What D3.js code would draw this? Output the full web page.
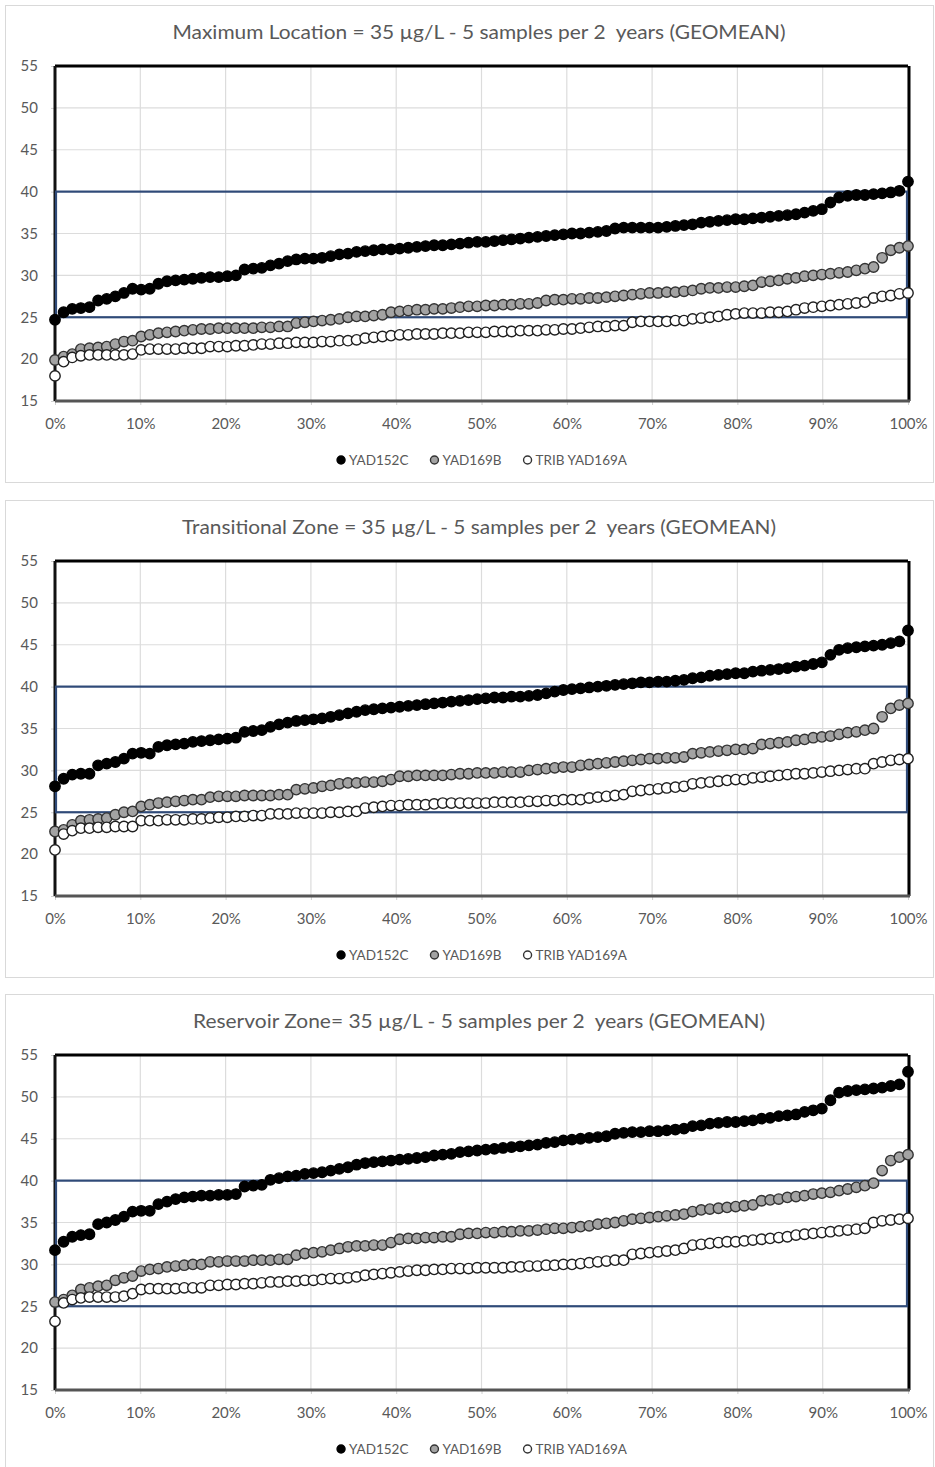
<!DOCTYPE html>
<html><head><meta charset="utf-8">
<script src="https://cdn.jsdelivr.net/npm/d3@7"></script>
<style>
body{margin:0;background:#fff}
svg text{font-family:Lato,"Open Sans","Liberation Sans",sans-serif;white-space:pre}
</style>
</head><body>
<svg id="chart" width="935" height="1467"></svg>
<script>
// ---------- DATA ----------
const titles = [
  "Maximum Location = 35 \u00b5g/L - 5 samples per 2  years (GEOMEAN)",
  "Transitional Zone = 35 \u00b5g/L - 5 samples per 2  years (GEOMEAN)",
  "Reservoir Zone= 35 \u00b5g/L - 5 samples per 2  years (GEOMEAN)"
];
const seriesNames = ["YAD152C", "YAD169B", "TRIB YAD169A"];
const yTicks = [15, 20, 25, 30, 35, 40, 45, 50, 55];
const xTicks = [0, 0.1, 0.2, 0.3, 0.4, 0.5, 0.6, 0.7, 0.8, 0.9, 1.0];
const xTickLabels = ["0%","10%","20%","30%","40%","50%","60%","70%","80%","90%","100%"];
const targetBand = [25, 40];

// Panel 1: Maximum Location
const max_YAD152C = [24.7,25.6,26.0,26.1,26.2,27.0,27.2,27.5,27.9,28.4,
 28.3,28.4,29.0,29.3,29.4,29.5,29.6,29.7,29.8,29.8,
 29.9,30.0,30.7,30.8,30.9,31.2,31.4,31.7,31.9,32.0,
 32.0,32.1,32.3,32.5,32.6,32.8,32.9,33.0,33.1,33.1,
 33.2,33.3,33.4,33.5,33.6,33.6,33.7,33.8,33.9,34.0,
 34.0,34.1,34.2,34.3,34.4,34.5,34.6,34.7,34.8,34.9,
 35.0,35.0,35.1,35.2,35.3,35.6,35.7,35.7,35.7,35.7,
 35.7,35.8,35.9,36.0,36.1,36.3,36.4,36.5,36.6,36.7,
 36.7,36.8,36.9,37.0,37.1,37.2,37.3,37.5,37.7,37.9,
 38.7,39.3,39.5,39.6,39.6,39.7,39.8,39.9,40.1,41.2];
const max_YAD169B = [19.9,20.3,20.6,21.2,21.3,21.4,21.5,21.8,22.1,22.2,
 22.7,22.9,23.1,23.2,23.3,23.4,23.5,23.6,23.6,23.7,
 23.7,23.7,23.7,23.7,23.8,23.8,23.9,23.9,24.3,24.4,
 24.5,24.6,24.7,24.8,25.0,25.1,25.1,25.2,25.3,25.6,
 25.7,25.8,25.9,25.9,26.0,26.0,26.1,26.2,26.3,26.3,
 26.4,26.4,26.5,26.5,26.6,26.6,26.7,27.0,27.1,27.1,
 27.2,27.2,27.3,27.3,27.4,27.5,27.6,27.7,27.8,27.9,
 27.9,28.0,28.0,28.1,28.2,28.4,28.5,28.5,28.6,28.6,
 28.7,28.8,29.2,29.3,29.4,29.6,29.7,29.9,30.0,30.1,
 30.2,30.3,30.4,30.6,30.8,31.0,32.1,33.0,33.3,33.5];
const max_TRIB = [18.0,19.7,20.2,20.4,20.5,20.5,20.5,20.5,20.5,20.6,
 21.1,21.2,21.2,21.2,21.2,21.3,21.3,21.3,21.5,21.5,
 21.5,21.6,21.6,21.7,21.8,21.8,21.9,21.9,22.0,22.0,
 22.0,22.1,22.1,22.2,22.2,22.3,22.5,22.6,22.7,22.8,
 22.9,22.9,23.0,23.0,23.0,23.1,23.1,23.1,23.2,23.2,
 23.2,23.3,23.3,23.3,23.4,23.4,23.4,23.5,23.5,23.6,
 23.6,23.7,23.8,23.9,23.9,24.0,24.0,24.4,24.5,24.5,
 24.5,24.5,24.6,24.6,24.8,24.9,25.0,25.1,25.3,25.4,
 25.5,25.5,25.5,25.6,25.6,25.7,25.9,26.1,26.2,26.3,
 26.4,26.5,26.6,26.7,26.8,27.3,27.5,27.6,27.8,27.9];

// Panel 2: Transitional Zone
const trans_YAD152C = [28.1,29.0,29.5,29.6,29.6,30.6,30.8,31.0,31.4,32.0,
 32.1,32.0,32.8,33.0,33.1,33.2,33.4,33.5,33.6,33.7,
 33.8,33.9,34.6,34.7,34.8,35.2,35.5,35.7,35.9,36.0,
 36.1,36.2,36.4,36.6,36.8,37.0,37.2,37.3,37.4,37.5,
 37.6,37.7,37.8,37.9,38.0,38.1,38.2,38.3,38.4,38.5,
 38.6,38.7,38.7,38.8,38.8,38.9,39.0,39.2,39.4,39.6,
 39.7,39.8,39.9,40.0,40.1,40.2,40.3,40.4,40.5,40.5,
 40.6,40.6,40.7,40.8,41.0,41.1,41.3,41.4,41.5,41.6,
 41.6,41.8,41.9,42.0,42.1,42.2,42.4,42.5,42.7,42.9,
 43.8,44.4,44.6,44.7,44.8,44.9,45.0,45.2,45.4,46.7];
const trans_YAD169B = [22.7,22.9,23.5,24.0,24.1,24.2,24.3,24.7,25.0,25.1,
 25.7,25.9,26.1,26.2,26.3,26.4,26.5,26.5,26.8,26.9,
 26.9,26.9,27.0,27.0,27.0,27.0,27.1,27.1,27.7,27.8,
 27.9,28.1,28.2,28.4,28.5,28.5,28.6,28.6,28.7,28.9,
 29.3,29.3,29.4,29.4,29.4,29.4,29.5,29.6,29.6,29.7,
 29.7,29.7,29.8,29.8,29.8,30.0,30.1,30.2,30.3,30.4,
 30.4,30.6,30.7,30.8,30.9,31.0,31.1,31.2,31.3,31.4,
 31.4,31.5,31.5,31.6,32.0,32.1,32.2,32.3,32.4,32.5,
 32.5,32.6,33.1,33.2,33.3,33.4,33.6,33.7,33.9,34.0,
 34.1,34.3,34.5,34.6,34.8,35.0,36.4,37.4,37.8,38.0];
const trans_TRIB = [20.5,22.4,22.8,23.1,23.1,23.2,23.2,23.3,23.3,23.3,
 24.0,24.0,24.0,24.1,24.1,24.1,24.2,24.2,24.3,24.4,
 24.4,24.5,24.5,24.6,24.6,24.8,24.8,24.8,24.9,24.9,
 24.9,24.9,25.0,25.0,25.1,25.1,25.5,25.6,25.7,25.8,
 25.8,25.9,25.9,25.9,26.0,26.1,26.1,26.1,26.1,26.1,
 26.1,26.2,26.2,26.2,26.2,26.3,26.3,26.4,26.4,26.5,
 26.5,26.5,26.7,26.8,26.9,27.0,27.1,27.5,27.6,27.7,
 27.8,27.9,28.0,28.1,28.4,28.5,28.6,28.7,28.8,28.9,
 28.9,29.1,29.2,29.3,29.4,29.5,29.6,29.6,29.7,29.8,
 29.9,30.0,30.1,30.2,30.2,30.8,31.0,31.2,31.3,31.4];

// Panel 3: Reservoir Zone
const res_YAD152C = [31.7,32.7,33.3,33.5,33.6,34.8,35.0,35.3,35.7,36.3,
 36.4,36.4,37.2,37.5,37.8,38.0,38.1,38.2,38.2,38.3,
 38.3,38.4,39.3,39.4,39.5,40.1,40.3,40.5,40.6,40.8,
 40.9,41.0,41.2,41.4,41.6,41.9,42.1,42.2,42.3,42.4,
 42.5,42.6,42.7,42.8,43.0,43.1,43.2,43.4,43.5,43.6,
 43.7,43.8,43.9,44.0,44.1,44.2,44.3,44.5,44.6,44.8,
 44.9,45.0,45.1,45.2,45.3,45.6,45.7,45.8,45.8,45.9,
 45.9,46.0,46.1,46.2,46.5,46.6,46.8,46.9,47.0,47.0,
 47.1,47.2,47.4,47.5,47.7,47.8,47.9,48.2,48.4,48.6,
 49.6,50.5,50.7,50.8,50.9,51.0,51.1,51.3,51.5,53.0];
const res_YAD169B = [25.5,25.8,26.3,27.0,27.2,27.4,27.5,28.1,28.4,28.6,
 29.2,29.4,29.5,29.7,29.8,29.9,30.0,30.0,30.3,30.3,
 30.4,30.4,30.4,30.5,30.5,30.5,30.6,30.6,31.1,31.3,
 31.4,31.5,31.7,31.9,32.1,32.2,32.2,32.3,32.3,32.6,
 33.0,33.1,33.1,33.2,33.2,33.3,33.3,33.6,33.7,33.7,
 33.8,33.8,33.9,33.9,34.0,34.0,34.1,34.2,34.3,34.3,
 34.4,34.5,34.6,34.8,34.9,35.0,35.2,35.4,35.5,35.6,
 35.7,35.8,35.9,36.0,36.3,36.5,36.6,36.7,36.8,36.9,
 37.0,37.1,37.6,37.7,37.8,38.0,38.1,38.2,38.4,38.5,
 38.6,38.8,39.0,39.2,39.4,39.7,41.2,42.4,42.8,43.1];
const res_TRIB = [23.2,25.4,25.8,26.0,26.1,26.1,26.1,26.1,26.2,26.5,
 27.0,27.1,27.1,27.1,27.1,27.2,27.2,27.2,27.5,27.5,
 27.6,27.6,27.7,27.7,27.8,27.9,27.9,28.0,28.0,28.1,
 28.1,28.2,28.3,28.3,28.4,28.5,28.7,28.8,28.9,29.0,
 29.1,29.2,29.3,29.3,29.4,29.4,29.5,29.5,29.5,29.6,
 29.6,29.6,29.6,29.7,29.7,29.8,29.8,29.9,29.9,30.0,
 30.0,30.1,30.2,30.3,30.4,30.5,30.5,31.2,31.3,31.4,
 31.5,31.6,31.7,31.9,32.3,32.4,32.5,32.6,32.7,32.7,
 32.8,32.9,33.0,33.1,33.2,33.3,33.5,33.6,33.7,33.8,
 33.9,34.0,34.1,34.2,34.3,35.0,35.2,35.3,35.4,35.5];

const panelSeries = [
  [max_YAD152C, max_YAD169B, max_TRIB],
  [trans_YAD152C, trans_YAD169B, trans_TRIB],
  [res_YAD152C, res_YAD169B, res_TRIB]
];

// ---------- STYLE / LAYOUT ----------
const markerFill = ["#000000", "#a3a3a3", "#ffffff"];
const markerStroke = ["#000000", "#333333", "#1f1f1f"];
const panelOffsets = [0, 495, 989];
const titleLens = [613, 594, 572];
const plotL = 55, plotR = 908, plotTop = 66, plotH = 335;
const textCol = "#595959";

const svg = d3.select("#chart");
svg.append("rect").attr("width", 935).attr("height", 1467).attr("fill", "#fff");

panelSeries.forEach((series, p) => {
  const oy = panelOffsets[p];
  const g = svg.append("g");

  // chart frame
  g.append("rect").attr("x", 5.5).attr("y", oy + 5.5).attr("width", 928).attr("height", 477)
    .attr("fill", "#fff").attr("stroke", "#d9d9d9").attr("stroke-width", 1);

  const x = d3.scaleLinear().domain([0, 1]).range([plotL, plotR]);
  const y = d3.scaleLinear().domain([15, 55]).range([oy + plotTop + plotH, oy + plotTop]);

  // title
  g.append("text").attr("x", 479).attr("y", oy + 39)
    .attr("text-anchor", "middle").attr("font-size", 20).attr("fill", textCol)
    .attr("textLength", titleLens[p]).attr("lengthAdjust", "spacingAndGlyphs")
    .text(titles[p]);

  // gridlines
  g.append("g").selectAll("line").data(yTicks).join("line")
    .attr("x1", plotL).attr("x2", plotR).attr("y1", d => y(d)).attr("y2", d => y(d))
    .attr("stroke", "#dcdcdc").attr("stroke-width", 1.2);
  g.append("g").selectAll("line").data(xTicks).join("line")
    .attr("y1", y(15)).attr("y2", y(55)).attr("x1", d => x(d)).attr("x2", d => x(d))
    .attr("stroke", "#dcdcdc").attr("stroke-width", 1.2);

  // axes (labels + small ticks)
  const yAxis = d3.axisLeft(y).tickValues(yTicks).tickSize(4).tickPadding(13);
  const ya = g.append("g").attr("transform", `translate(${plotL},0)`).call(yAxis);
  ya.select(".domain").remove();
  ya.selectAll("line").attr("stroke", "#d0d0d0");
  ya.selectAll("text").attr("font-size", 15).attr("fill", textCol)
    .style("font-family", "Lato, 'Open Sans', sans-serif");

  const xAxis = d3.axisBottom(x).tickValues(xTicks).tickSize(4).tickPadding(13)
    .tickFormat((d, i) => xTickLabels[i]);
  const xa = g.append("g").attr("transform", `translate(0,${y(15)})`).call(xAxis);
  xa.select(".domain").remove();
  xa.selectAll("line").attr("stroke", "#d0d0d0");
  xa.selectAll("text").attr("font-size", 15).attr("fill", textCol)
    .style("font-family", "Lato, 'Open Sans', sans-serif");

  // plot border
  g.append("line").attr("x1", plotL).attr("x2", plotR).attr("y1", y(55)).attr("y2", y(55))
    .attr("stroke", "#000").attr("stroke-width", 3);
  g.append("line").attr("x1", plotL).attr("x2", plotL).attr("y1", y(55)).attr("y2", y(15))
    .attr("stroke", "#111").attr("stroke-width", 3);
  g.append("line").attr("x1", plotR + 1).attr("x2", plotR + 1).attr("y1", y(55)).attr("y2", y(15))
    .attr("stroke", "#000").attr("stroke-width", 3);
  g.append("line").attr("x1", plotL).attr("x2", plotR + 2).attr("y1", y(15)).attr("y2", y(15))
    .attr("stroke", "#555", ).attr("stroke-width", 3);

  // target band box (25-40)
  g.append("rect").attr("x", plotL + 1).attr("y", y(targetBand[1]))
    .attr("width", plotR - plotL - 2).attr("height", y(targetBand[0]) - y(targetBand[1]))
    .attr("fill", "none").attr("stroke", "#2f4a78").attr("stroke-width", 2.2);

  // markers
  series.forEach((vals, s) => {
    const n = vals.length;
    g.append("g").selectAll("circle").data(vals).join("circle")
      .attr("cx", (d, i) => x(i / (n - 1)))
      .attr("cy", d => y(d))
      .attr("r", 5.2)
      .attr("fill", markerFill[s])
      .attr("stroke", markerStroke[s])
      .attr("stroke-width", 1.4);
  });

  // legend
  const lg = g.append("g").attr("transform", `translate(0,${oy + 460})`);
  const items = [];
  seriesNames.forEach((name, s) => {
    const it = lg.append("g");
    it.append("circle").attr("cx", 4).attr("cy", 0).attr("r", 4)
      .attr("fill", markerFill[s]).attr("stroke", s === 0 ? "#000" : "#333").attr("stroke-width", 1.4);
    const t = it.append("text").attr("x", 12).attr("y", 4.5).attr("font-size", 13.5)
      .attr("fill", textCol).text(name);
    const w = 12 + t.node().getComputedTextLength();
    items.push({it, w});
  });
  const gap = 22;
  const total = items.reduce((a, b) => a + b.w, 0) + gap * (items.length - 1);
  let start = 482 - total / 2;
  items.forEach(({it, w}) => { it.attr("transform", `translate(${start},0)`); start += w + gap; });
});
</script>
</body></html>
